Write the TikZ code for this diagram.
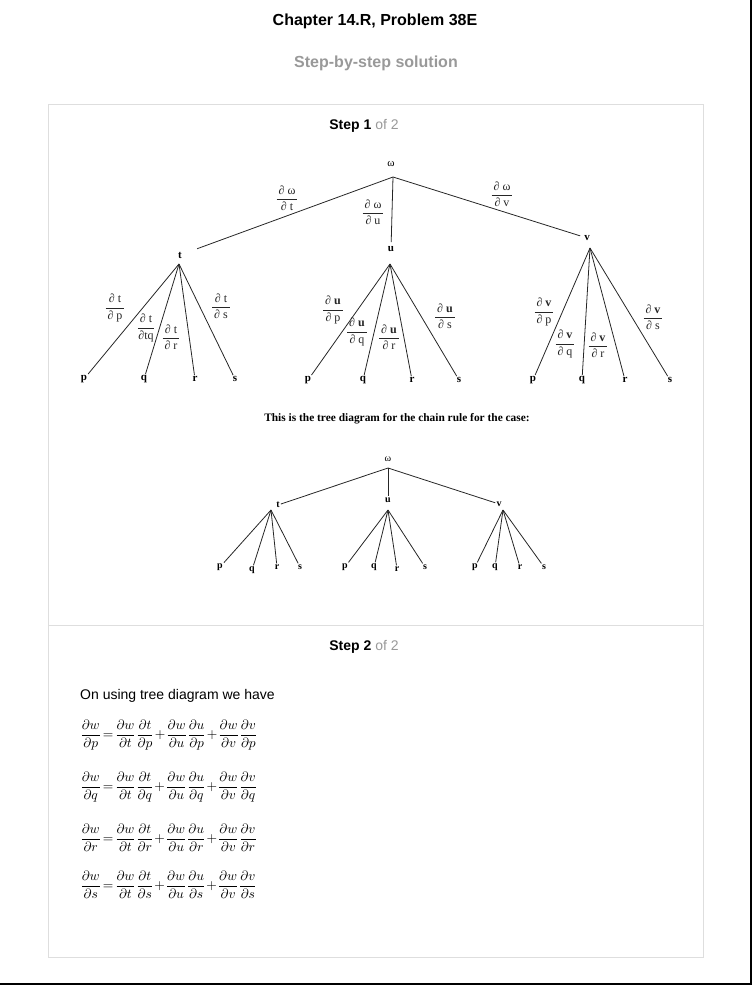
\documentclass[tikz,border=0pt]{standalone}
\usepackage{amsmath}
\usepackage{graphicx}
\usepackage{fontspec}
\setmainfont{Liberation Sans}
\newfontfamily\treefont{Liberation Serif}
\newcommand{\tfr}[2]{$\genfrac{}{}{0.5pt}{0}{\hbox{\kern2pt∂ #1\kern2pt}}{\hbox{\kern2pt∂ #2\kern2pt}}$}
\newcommand{\chainline}[1]{\scalebox{1.35}{$\thickmuskip=2mu\medmuskip=1mu
  \dfrac{\partial w}{\partial #1}=\dfrac{\partial w}{\partial t}\dfrac{\partial t}{\partial #1}
  +\dfrac{\partial w}{\partial u}\dfrac{\partial u}{\partial #1}
  +\dfrac{\partial w}{\partial v}\dfrac{\partial v}{\partial #1}$}}
\begin{document}
\begin{tikzpicture}[x=1pt,y=-1pt,
    head/.style={font=\bfseries\fontsize{16}{18}\selectfont, inner sep=0pt},
    stephead/.style={font=\fontsize{14}{16}\selectfont, inner sep=0pt},
    box/.style={draw=black!13, line width=1pt},
    tr/.style={line width=0.8pt, black!85},
    om/.style={font=\treefont\fontsize{11}{12}\selectfont, inner sep=1pt},
    nd/.style={font=\treefont\bfseries\fontsize{11}{12}\selectfont, inner sep=1pt},
    om2/.style={font=\treefont\fontsize{10}{11}\selectfont, inner sep=1pt},
    nd2/.style={font=\treefont\bfseries\fontsize{10}{11}\selectfont, inner sep=1pt},
    fr/.style={font=\treefont\fontsize{12}{13}\selectfont, inner sep=0pt, text=black!85},
    eq/.style={inner sep=0pt, anchor=west}]
  \useasboundingbox (0,0) rectangle (752,985);
  \node[head] (title) at (375,21) {Chapter 14.R, Problem 38E};
  \node[head, text=black!40] (sub) at (376,63) {Step-by-step solution};
  \draw[box] (48.5,104.5) rectangle (703,957);
  \draw[box] (48.5,625) -- (703,625);
  \draw[line width=2pt] (751,0) -- (751,984) -- (0,984);
  \node[stephead] (step1) at (364,126) {\textbf{Step 1} \textcolor{black!40}{of 2}};
  \node[stephead] (step2) at (364,647) {\textbf{Step 2} \textcolor{black!40}{of 2}};

  \node[om] (wl) at (391,164) {ω};
  \coordinate (w) at (393,177);
  \node[nd] (tl) at (180,255) {t};
  \node[nd] (ul) at (391,249) {u};
  \node[nd] (vl) at (587,238) {v};
  \coordinate (t) at (179,264);
  \coordinate (u) at (390,264);
  \coordinate (v) at (590,248);
  \draw[tr, shorten >=15pt] (w) -- (tl);
  \draw[tr, shorten >=3pt] (w) -- (ul);
  \draw[tr, shorten >=3pt] (w) -- (vl);
  \foreach \n/\x in {p/84,q/144,r/195,s/235} {
    \node[nd] (t\n) at (\x,379) {\n};
    \draw[tr] (t) -- (t\n);
  }
  \foreach \n/\x in {p/308,q/363,r/412,s/459} {
    \node[nd] (u\n) at (\x,380) {\n};
    \draw[tr] (u) -- (u\n);
  }
  \foreach \n/\x in {p/533,q/582,r/625,s/670} {
    \node[nd] (v\n) at (\x,380) {\n};
    \draw[tr] (v) -- (v\n);
  }
  \node[fr] (fwt) at (287,198) {\tfr{ω}{t}};
  \node[fr] (fwu) at (373,212) {\tfr{ω}{u}};
  \node[fr] (fwv) at (502,194) {\tfr{ω}{v}};
  \node[fr] (ftp) at (115,308) {\tfr{t}{p}};
  \node[fr] (ftq) at (146,328) {$\genfrac{}{}{0.5pt}{0}{\hbox{\kern2pt∂ t\kern2pt}}{\hbox{∂tq}}$};
  \node[fr] (ftr) at (171,337) {\tfr{t}{r}};
  \node[fr] (fts) at (221,306) {\tfr{t}{s}};
  \node[fr] (fup) at (333,310) {\tfr{\textbf{u}}{p}};
  \node[fr] (fuq) at (357,332) {\tfr{\textbf{u}}{q}};
  \node[fr] (fur) at (389,337) {\tfr{\textbf{u}}{r}};
  \node[fr] (fus) at (445,316) {\tfr{\textbf{u}}{s}};
  \node[fr] (fvp) at (544,312) {\tfr{\textbf{v}}{p}};
  \node[fr] (fvq) at (565,344) {\tfr{\textbf{v}}{q}};
  \node[fr] (fvr) at (598,345) {\tfr{\textbf{v}}{r}};
  \node[fr] (fvs) at (653,317) {\tfr{\textbf{v}}{s}};

  \node[font=\treefont\bfseries\fontsize{11.4}{13}\selectfont, inner sep=0pt] (case) at (397,419)
    {This is the tree diagram for the chain rule for the case:};

  \node[om2] (wl2) at (388,459) {ω};
  \coordinate (w2) at (388,468);
  \node[nd2] (tl2) at (278,505) {t};
  \node[nd2] (ul2) at (388,500) {u};
  \node[nd2] (vl2) at (499,504) {v};
  \coordinate (t2) at (271,510);
  \coordinate (u2) at (388,510);
  \coordinate (v2) at (503,510);
  \draw[tr] (w2) -- (tl2);
  \draw[tr] (w2) -- (ul2);
  \draw[tr] (w2) -- (vl2);
  \foreach \n/\x/\y in {p/220/567,q/252/570,r/277/567,s/300/567} {
    \node[nd2] (t2\n) at (\x,\y) {\n};
    \draw[tr] (t2) -- (t2\n);
  }
  \foreach \n/\x/\y in {p/345/567,q/374/567,r/397/569,s/425/567} {
    \node[nd2] (u2\n) at (\x,\y) {\n};
    \draw[tr] (u2) -- (u2\n);
  }
  \foreach \n/\x/\y in {p/475/567,q/495/567,r/520/567,s/544/567} {
    \node[nd2] (v2\n) at (\x,\y) {\n};
    \draw[tr] (v2) -- (v2\n);
  }

  \node[stephead, anchor=west] (intro) at (80,696) {On using tree diagram we have};
  \node[eq] (eqp) at (80,735) {\chainline{p}};
  \node[eq] (eqq) at (80,787) {\chainline{q}};
  \node[eq] (eqr) at (80,838) {\chainline{r}};
  \node[eq] (eqs) at (80,885) {\chainline{s}};
\end{tikzpicture}
\end{document}
